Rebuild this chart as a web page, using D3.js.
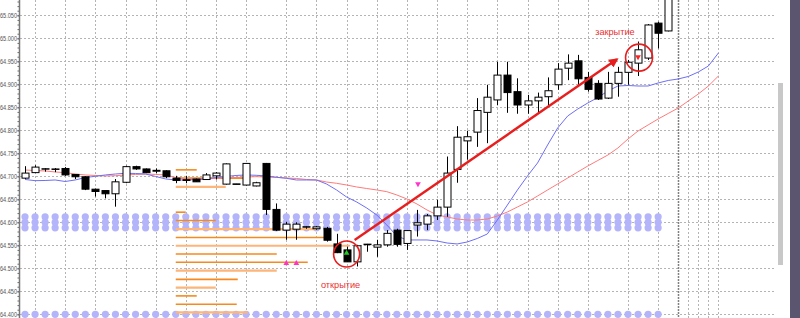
<!DOCTYPE html>
<html>
<head>
<meta charset="utf-8">
<script src="https://cdn.jsdelivr.net/npm/d3@7"></script>
<style>
body{margin:0;background:#fff;overflow:hidden}
svg{display:block}
</style>
</head>
<body>
<div id="chart"></div>
<script>
// price ticks on the left axis
let yTicks = [64.40,64.45,64.50,64.55,64.60,64.65,64.70,64.75,64.80,64.85,64.90,64.95,65.00,65.05];
// bars where the time grid lines fall (65.. are future bars)
let gridBars = [1,4,7,10,13,16,19,22,26,29,32,35,38,41,44,47,50,53,56,60,63,66,67,68,69];
let nowBar = 65;

// candles, one entry per bar
let openP  = [64.696,64.708,64.716,64.716,64.717,64.704,64.699,64.672,64.669,64.662,64.687,64.721,64.716,64.711,64.712,
              64.696,64.6925,64.694,64.693,64.701,64.683,64.6835,64.681,64.679,64.728,64.628,64.583,64.585,64.590,64.586,
              64.587,64.553,64.540,64.514,64.5525,64.546,64.551,64.583,64.554,64.594,64.596,64.614,64.633,64.715,64.777,
              64.796,64.839,64.866,64.920,64.884,64.855,64.864,64.873,64.899,64.935,64.951,64.915,64.902,64.870,64.902,
              64.926,64.946,64.957,65.033,65.016];
let highP  = [64.722,64.724,64.718,64.718,64.720,64.705,64.700,64.673,64.669,64.694,64.723,64.723,64.717,64.717,64.713,
              64.701,64.701,64.695,64.707,64.709,64.728,64.6835,64.729,64.688,64.729,64.641,64.601,64.600,64.592,64.592,
              64.590,64.575,64.547,64.551,64.553,64.562,64.583,64.586,64.583,64.627,64.618,64.649,64.743,64.809,64.799,
              64.870,64.899,64.949,64.949,64.913,64.877,64.882,64.915,64.946,64.965,64.964,64.927,64.909,64.927,64.938,
              64.953,64.993,65.031,65.036,65.100];
let lowP   = [64.694,64.707,64.710,64.709,64.701,64.694,64.670,64.656,64.652,64.634,64.685,64.714,64.707,64.707,64.696,
              64.685,64.685,64.688,64.693,64.693,64.682,64.683,64.680,64.678,64.616,64.581,64.562,64.562,64.586,64.584,
              64.558,64.533,64.514,64.504,64.536,64.525,64.547,64.547,64.540,64.569,64.583,64.605,64.612,64.686,64.736,
              64.764,64.772,64.855,64.838,64.836,64.836,64.838,64.855,64.888,64.909,64.899,64.884,64.866,64.868,64.873,
              64.899,64.918,64.953,64.978,65.015];
let closeP = [64.707,64.720,64.7165,64.716,64.703,64.699,64.672,64.667,64.662,64.688,64.721,64.716,64.708,64.713,64.699,
              64.691,64.691,64.688,64.703,64.707,64.727,64.683,64.728,64.686,64.628,64.583,64.596,64.596,64.5905,64.590,
              64.561,64.534,64.514,64.549,64.552,64.551,64.576,64.552,64.582,64.599,64.614,64.633,64.707,64.785,64.786,
              64.843,64.872,64.920,64.882,64.855,64.864,64.872,64.886,64.933,64.946,64.912,64.889,64.868,64.902,64.926,
              64.948,64.975,65.029,65.011,65.090];

// moving averages (shifted forward, so they run past the last bar)
let maFast = [64.6931,64.6905,64.6909,64.692,64.6887,64.692,64.6974,64.700,64.7029,64.705,64.7066,64.7061,64.705,64.6996,64.6942,
              64.692,64.692,64.6927,64.6942,64.6974,64.6996,64.7018,64.7029,64.7022,64.7007,64.6979,64.6957,64.692,64.692,64.692,
              64.6833,64.6703,64.655,64.6442,64.6311,64.6159,64.5942,64.5703,64.5616,64.5616,64.5616,64.5594,64.555,64.5529,64.5572,
              64.5648,64.5746,64.605,64.6376,64.6703,64.7007,64.729,64.7681,64.805,64.8311,64.8463,64.8594,64.8713,64.8855,64.8963,
              64.8974,64.8963,64.8963,64.9029,64.9083,64.9116,64.917,64.9268,64.9398,64.9681];
let maSlow = [64.7137,64.7126,64.7116,64.7094,64.7079,64.705,64.7029,64.7018,64.7007,64.7013,64.7029,64.704,64.705,64.704,64.7029,
              64.6974,64.6942,64.6935,64.6942,64.6953,64.6963,64.6974,64.6985,64.6992,64.6985,64.6979,64.6963,64.6953,64.6931,64.692,
              64.6876,64.6848,64.6811,64.6768,64.6735,64.6703,64.6666,64.6594,64.6507,64.6398,64.6268,64.6159,64.6116,64.6072,64.605,
              64.605,64.6072,64.6137,64.6224,64.6333,64.6442,64.6572,64.6703,64.6833,64.6963,64.7094,64.7224,64.7344,64.7463,64.7616,
              64.7811,64.7985,64.8116,64.8246,64.8366,64.8485,64.8637,64.879,64.8963,64.9181];

// horizontal volume levels starting at bar 15
let levelPrice = [64.714,64.696,64.677,64.622,64.604,64.585,64.567,64.549,64.531,64.513,64.495,64.476,64.458,64.440,64.422,64.404];
let levelVol   = [21,74,50,10,40,141,151,174,101,132,101,62,40,21,61,72];
let levelKind  = [0,0,1,0,0,1,0,1,0,0,1,0,1,0,0,1];
let levelStart = 15;

// dotted indicator rows
let dotRows = [64.600,64.400];
let dotBars = d3.range(0,64);

// signals
let buyBar = 32, buyPrice = 64.533;
let sellBar = 61, sellPrice = 64.9594;
let alertUpBars = [26,27], alertUpPrice = 64.511;
let alertDownBar = 39.1, alertDownPrice = 64.6833;

// annotations
let openCircle  = {bar:32.0, price:64.531, r:13};
let closeCircle = {bar:61.1, price:64.958, r:13.5};
let arrowFrom = {bar:32.8, price:64.5616};
let arrowTo   = {bar:58.9, price:64.9544};
let labelOpen  = {bar:31.4, price:64.4572, text:"открытие"};
let labelClose = {bar:58.7, price:65.0072, text:"закрытие"};

let W = 800, H = 318;
let plotLeft = 20, plotRight = 775;

let svg = d3.select("#chart").append("svg")
    .attr("width", W)
    .attr("height", H);

let x = d3.scaleLinear().domain([0,69]).range([25, 25+69*10.05]);
let y = d3.scaleLinear().domain([64.4,65.05]).range([314.3,15.3]);

svg.append("rect").attr("width",W).attr("height",H).attr("fill","#ffffff");

svg.append("defs").append("clipPath").attr("id","plot")
    .append("rect").attr("x",plotLeft).attr("y",0).attr("width",plotRight-plotLeft).attr("height",H);

let plot = svg.append("g").attr("clip-path","url(#plot)");

// grid
plot.selectAll(".hgrid").data(yTicks).enter().append("line")
    .attr("x1",plotLeft).attr("x2",plotRight)
    .attr("y1",d=>Math.round(y(d))+0.5).attr("y2",d=>Math.round(y(d))+0.5)
    .attr("stroke","#b4b4b4").attr("stroke-dasharray","2,2");
plot.selectAll(".vgrid").data(gridBars).enter().append("line")
    .attr("x1",d=>Math.round(x(d))+0.5).attr("x2",d=>Math.round(x(d))+0.5)
    .attr("y1",0).attr("y2",H)
    .attr("stroke","#b4b4b4").attr("stroke-dasharray","2,2");
plot.append("line")
    .attr("x1",Math.round(x(nowBar))+0.5).attr("x2",Math.round(x(nowBar))+0.5)
    .attr("y1",0).attr("y2",H)
    .attr("stroke","#808080").attr("stroke-width",1.5).attr("stroke-dasharray","2,1");

// dotted rows
dotRows.forEach(function(p,k){
    let offs = k==0 ? [-5.5,0,5.5] : [0];
    offs.forEach(function(o){
        plot.selectAll(null).data(dotBars).enter().append("circle")
            .attr("cx",d=>x(d)).attr("cy",y(p)+o).attr("r",3.6)
            .attr("fill","#b4b4fa");
    });
});

// volume levels
let volW = d3.scaleLinear().domain([0,174]).range([0,174]);
plot.selectAll(".lvl").data(levelPrice).enter().append("line")
    .attr("x1",x(levelStart))
    .attr("x2",(d,i)=>x(levelStart)+volW(levelVol[i]))
    .attr("y1",d=>y(d)).attr("y2",d=>y(d))
    .attr("stroke",(d,i)=>levelKind[i] ? "#fdb57a" : "#f78a1e")
    .attr("stroke-width",(d,i)=>levelKind[i] ? 2.2 : 1.6);

// moving averages
let maLine = d3.line().x((d,i)=>x(i)).y(d=>y(d));
plot.append("path").datum(maSlow).attr("d",maLine)
    .attr("fill","none").attr("stroke","#ff7a7a").attr("stroke-width",1);
plot.append("path").datum(maFast).attr("d",maLine)
    .attr("fill","none").attr("stroke","#6e6ef5").attr("stroke-width",1);

// candles
let bars = d3.range(openP.length);
let bw = 7;
plot.selectAll(".wick").data(bars).enter().append("line")
    .attr("x1",i=>Math.round(x(i))+0.5).attr("x2",i=>Math.round(x(i))+0.5)
    .attr("y1",i=>y(highP[i])).attr("y2",i=>y(lowP[i]))
    .attr("stroke","#000").attr("stroke-width",1);
plot.selectAll(".body").data(bars).enter().append("rect")
    .attr("x",i=>Math.round(x(i))-bw/2+0.5)
    .attr("y",i=>y(Math.max(openP[i],closeP[i])))
    .attr("width",bw)
    .attr("height",i=>Math.max(0.5,Math.abs(y(openP[i])-y(closeP[i]))))
    .attr("fill",i=>closeP[i]>=openP[i] ? "#ffffff" : "#000000")
    .attr("stroke","#000").attr("stroke-width",1);

// signal markers
let tri = d3.symbol().type(d3.symbolTriangle).size(14);
plot.append("path").attr("d",tri)
    .attr("transform","translate("+x(buyBar)+","+y(buyPrice)+")")
    .attr("fill","#22cc22");
plot.append("path").attr("d",tri)
    .attr("transform","translate("+x(sellBar)+","+y(sellPrice)+") rotate(180)")
    .attr("fill","#ff2020");
plot.selectAll(".aup").data(alertUpBars).enter().append("path").attr("d",tri)
    .attr("transform",d=>"translate("+x(d)+","+y(alertUpPrice)+")")
    .attr("fill","#ff33cc");
plot.append("path").attr("d",tri)
    .attr("transform","translate("+x(alertDownBar)+","+y(alertDownPrice)+") rotate(180)")
    .attr("fill","#ff33cc");

// annotations
let red = "#e81e1e";
[openCircle, closeCircle].forEach(function(c){
    plot.append("circle").attr("cx",x(c.bar)).attr("cy",y(c.price)).attr("r",c.r)
        .attr("fill","none").attr("stroke",red).attr("stroke-width",1.6);
});
svg.select("defs").append("marker").attr("id","head")
    .attr("viewBox","0 0 10 10").attr("refX",8).attr("refY",5)
    .attr("markerWidth",4).attr("markerHeight",4).attr("orient","auto")
    .append("path").attr("d","M0,0L10,5L0,10Z").attr("fill",red);
plot.append("line")
    .attr("x1",x(arrowFrom.bar)).attr("y1",y(arrowFrom.price))
    .attr("x2",x(arrowTo.bar)).attr("y2",y(arrowTo.price))
    .attr("stroke",red).attr("stroke-width",2.4).attr("marker-end","url(#head)");
[labelOpen, labelClose].forEach(function(l){
    plot.append("text").attr("x",x(l.bar)).attr("y",y(l.price))
        .attr("text-anchor","middle")
        .attr("font-family","Liberation Sans, Arial, sans-serif").attr("font-size",9.2)
        .attr("fill","#e83030").text(l.text);
});

// price axis
let axis = svg.append("g").attr("transform","translate("+(plotLeft-0.5)+",0)");
axis.call(d3.axisLeft(y).tickValues(yTicks).tickFormat(d3.format(".3f")).tickSize(2).tickPadding(1));
axis.select(".domain").remove();
axis.selectAll(".tick text")
    .attr("x",-19.5).attr("text-anchor","start")
    .attr("textLength",17).attr("lengthAdjust","spacingAndGlyphs")
    .attr("font-family","Liberation Sans, Arial, sans-serif").attr("font-size",7).attr("fill","#555");
axis.selectAll(".tick line").attr("stroke","#666");
let minor = svg.append("g").attr("transform","translate("+(plotLeft-0.5)+",0)");
minor.call(d3.axisLeft(y).tickValues(d3.range(64.39,65.09,0.01)).tickFormat("").tickSize(2));
minor.select(".domain").remove();
minor.selectAll(".tick line").attr("stroke","#666");
svg.append("line").attr("x1",plotLeft-0.5).attr("x2",plotLeft-0.5).attr("y1",0).attr("y2",H)
    .attr("stroke","#777").attr("stroke-width",1.5);

// right side: scrollbar and panel
svg.append("rect").attr("x",778).attr("y",83).attr("width",5).attr("height",182).attr("fill","#c8c8c8");
svg.append("rect").attr("x",790).attr("y",0).attr("width",10).attr("height",H).attr("fill","#5b5570");
</script>
</body>
</html>
